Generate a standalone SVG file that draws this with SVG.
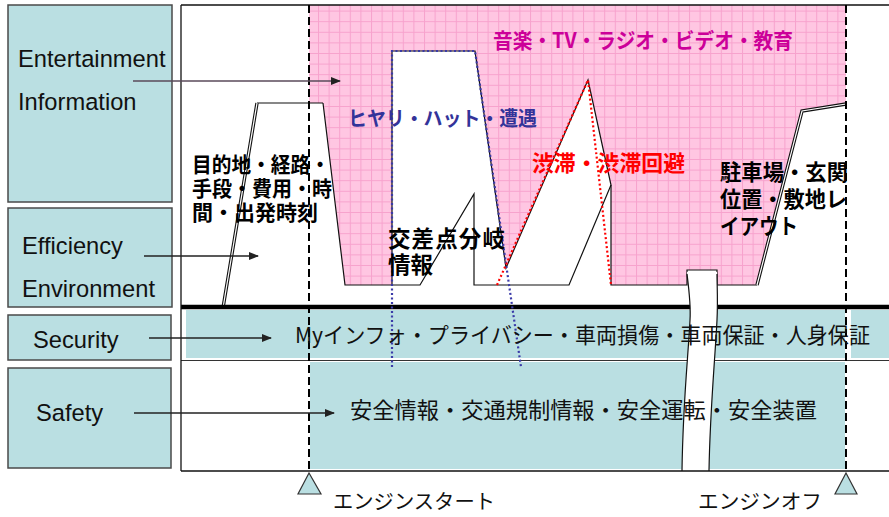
<svg xmlns="http://www.w3.org/2000/svg" width="889" height="517" viewBox="0 0 889 517">
<style>
.lbl{fill:#badfe2;stroke:#4a4a4a;stroke-width:1.5}
.en{font-family:"Liberation Sans",Arial,sans-serif;font-size:23.7px;fill:#111}
.jp{font-family:"Noto Sans CJK JP","Noto Sans CJK SC",sans-serif;font-size:22px;fill:#111}
.jb{font-family:"Noto Sans CJK JP","Noto Sans CJK SC",sans-serif;font-size:21px;font-weight:bold;fill:#000}
.ln{fill:none;stroke:#111;stroke-width:1.2}
.band{fill:#badfe2}
.arr{stroke:#222;stroke-width:1.3;fill:none;marker-end:url(#ah)}
</style>
<defs>
<pattern id="grid" patternUnits="userSpaceOnUse" width="10.6" height="10.6">
<rect width="10.6" height="10.6" fill="#ffc6e2"/>
<path d="M0 0.5H10.6M0.5 0V10.6" stroke="#f7a2cd" stroke-width="1"/>
</pattern>
<marker id="ah" markerWidth="10" markerHeight="8" refX="9" refY="4" orient="auto" markerUnits="userSpaceOnUse">
<path d="M0 0L10 4L0 8z" fill="#222"/>
</marker>
</defs>
<rect width="889" height="517" fill="#fff"/>

<g id="chart">
<polygon fill="url(#grid)" points="309,5 846,5 846,104 802,111 757,285 717,285 717,270 687,270 687,285 611,285 611,185 588,80 506,268 475,51 392,51 392,285 345,285 323,103 309,103"/>
<polyline class="ln" points="323,103 345,285 420,285 474,194 474,285 569,285 611,185 588,80 506,268 475,51 392,51 392,285"/>
<line x1="257" y1="103" x2="323" y2="103" class="ln"/>
<polyline points="223,308 257,103" fill="none" stroke="#111" stroke-width="3.4"/>
<polyline points="223,308 257,103" fill="none" stroke="#fff" stroke-width="1.2"/>
<polyline class="ln" points="611,185 611,285 687,285 687,270 717,270 717,285 757,285"/>
<polyline points="757,285 802,111 846,104" fill="none" stroke="#111" stroke-width="3.4"/>
<polyline points="757,285 802,111 846,104" fill="none" stroke="#fff" stroke-width="1.2"/>

<rect class="band" x="186" y="310" width="659" height="48"/>
<rect class="band" x="851" y="310" width="38" height="48"/>
<rect class="band" x="310" y="362" width="535" height="107"/>
<line x1="181" y1="307" x2="889" y2="307" stroke="#000" stroke-width="4.5"/>
<line x1="181" y1="360.5" x2="889" y2="360.5" stroke="#333" stroke-width="1.2"/>

<path d="M687,272 C689,290 691,305 690,320 C688,360 683,400 682,470 L709,470 C710,410 715,360 717,320 C718,300 717,285 717,272 Z" fill="#fff"/>
<path d="M687,274 C689,290 691,305 690,320 C688,360 683,400 682,471" fill="none" stroke="#111" stroke-width="1.2"/>
<path d="M717,274 C717,285 718,300 717,320 C715,360 710,410 709,471" fill="none" stroke="#111" stroke-width="1.2"/>

<line x1="181" y1="5" x2="889" y2="5" stroke="#111" stroke-width="1.3"/>
<line x1="181" y1="5" x2="181" y2="471" stroke="#111" stroke-width="1.3"/>
<line x1="181" y1="471" x2="889" y2="471" stroke="#111" stroke-width="1.3"/>
<line x1="309" y1="5" x2="309" y2="473" stroke="#000" stroke-width="2" stroke-dasharray="8,4"/>
<line x1="846" y1="5" x2="846" y2="473" stroke="#000" stroke-width="2" stroke-dasharray="8,4"/>

<polyline points="392,367 392,51 475,51 521,367" fill="none" stroke="#3a3aa8" stroke-width="2.2" stroke-dasharray="2,2.5"/>
<polyline points="497,285 588,80 611,285" fill="none" stroke="#ff0000" stroke-width="2.2" stroke-dasharray="2,2.5"/>

<polygon points="309,473 298,494 321,494" fill="#badfe2" stroke="#333" stroke-width="1.2"/>
<polygon points="846,473 835,494 857,494" fill="#badfe2" stroke="#333" stroke-width="1.2"/>

<text class="jb" x="493" y="48" style="fill:#cc0099" textLength="300" lengthAdjust="spacingAndGlyphs">音楽・TV・ラジオ・ビデオ・教育</text>
<text class="jb" x="348" y="126" style="fill:#333399;font-size:20px" textLength="189" lengthAdjust="spacingAndGlyphs">ヒヤリ・ハット・遭遇</text>
<text class="jb" x="532" y="171" style="fill:#ff0000;font-size:22px" textLength="153" lengthAdjust="spacingAndGlyphs">渋滞・渋滞回避</text>
<text class="jb"><tspan x="192" y="172" textLength="138" lengthAdjust="spacingAndGlyphs">目的地・経路・</tspan><tspan x="192" y="196" textLength="140" lengthAdjust="spacingAndGlyphs">手段・費用・時</tspan><tspan x="192" y="220" textLength="126" lengthAdjust="spacingAndGlyphs">間・出発時刻</tspan></text>
<text class="jb" style="font-size:22.5px"><tspan x="388" y="247" textLength="117" lengthAdjust="spacing">交差点分岐</tspan><tspan x="388" y="273" textLength="45" lengthAdjust="spacing">情報</tspan></text>
<text class="jb" style="font-size:21.5px"><tspan x="720" y="180" textLength="128" lengthAdjust="spacingAndGlyphs">駐車場・玄関</tspan><tspan x="720" y="207" textLength="127" lengthAdjust="spacingAndGlyphs">位置・敷地レ</tspan><tspan x="720" y="234" textLength="78" lengthAdjust="spacingAndGlyphs">イアウト</tspan></text>
<text class="jp" x="295" y="343" textLength="575" lengthAdjust="spacingAndGlyphs">Myインフォ・プライバシー・車両損傷・車両保証・人身保証</text>
<text class="jp" x="350" y="418" textLength="467" lengthAdjust="spacingAndGlyphs">安全情報・交通規制情報・安全運転・安全装置</text>
<text class="jp" x="333" y="509" style="font-size:20.5px" textLength="162" lengthAdjust="spacingAndGlyphs">エンジンスタート</text>
<text class="jp" x="698" y="509" style="font-size:20.5px" textLength="124" lengthAdjust="spacingAndGlyphs">エンジンオフ</text>
</g>

<g id="node-entertainment">
<rect class="lbl" x="8" y="5" width="164" height="197"/>
<text class="en"><tspan x="18" y="67">Entertainment</tspan><tspan x="18" y="110">Information</tspan></text>
</g>
<g id="node-efficiency">
<rect class="lbl" x="8" y="208" width="164" height="99"/>
<text class="en"><tspan x="22" y="254">Efficiency</tspan><tspan x="22" y="297">Environment</tspan></text>
</g>
<g id="node-security">
<rect class="lbl" x="8" y="315" width="163" height="45"/>
<text class="en" x="33" y="348">Security</text>
</g>
<g id="node-safety">
<rect class="lbl" x="8" y="368" width="163" height="100"/>
<text class="en" x="36" y="421">Safety</text>
</g>

<g id="connectors">
<line class="arr" x1="133" y1="81" x2="340" y2="81" style="stroke:#5a4a5a"/>
<line class="arr" x1="144" y1="256" x2="258" y2="256"/>
<line class="arr" x1="149" y1="338" x2="271" y2="338"/>
<line class="arr" x1="134" y1="413" x2="334" y2="413"/>
</g>
</svg>
